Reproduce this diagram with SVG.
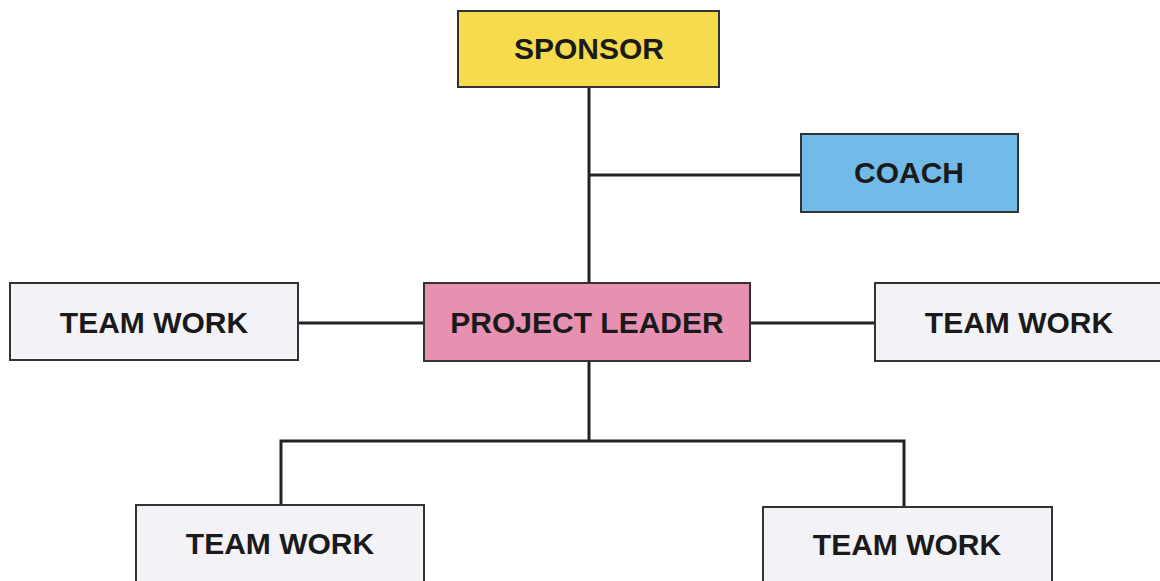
<svg xmlns="http://www.w3.org/2000/svg" width="1160" height="581" viewBox="0 0 1160 581">
  <style>
    .box { stroke: #333; stroke-width: 2; }
    .label { font-family: "Liberation Sans", Arial, sans-serif; font-weight: bold; font-size: 30px; fill: #1a1a1a; text-anchor: middle; }
    .link { fill: none; stroke: #222; stroke-width: 3; }
    .team { fill: #f3f2f7; }
  </style>
  <rect width="1160" height="581" fill="#ffffff"/>

  <g id="connectors">
    <line class="link" x1="589" y1="87" x2="589" y2="283"/>
    <line class="link" x1="589" y1="175" x2="801" y2="175"/>
    <line class="link" x1="298" y1="323" x2="424" y2="323"/>
    <line class="link" x1="750" y1="323" x2="875" y2="323"/>
    <line class="link" x1="589" y1="361" x2="589" y2="441"/>
    <polyline class="link" points="281,505 281,441 904,441 904,507"/>
  </g>

  <g id="sponsor">
    <rect class="box" x="458" y="11" width="261" height="76" fill="#f6dc4c"/>
    <text class="label" x="589" y="59">SPONSOR</text>
  </g>

  <g id="coach">
    <rect class="box" x="801" y="134" width="217" height="78" fill="#72bbe9"/>
    <text class="label" x="909" y="183">COACH</text>
  </g>

  <g id="project-leader">
    <rect class="box" x="424" y="283" width="326" height="78" fill="#e890b2"/>
    <text class="label" x="587" y="333">PROJECT LEADER</text>
  </g>

  <g id="team-left">
    <rect class="box team" x="10" y="283" width="288" height="77"/>
    <text class="label" x="154" y="333">TEAM WORK</text>
  </g>

  <g id="team-right">
    <rect class="box team" x="875" y="283" width="288" height="78"/>
    <text class="label" x="1019" y="333">TEAM WORK</text>
  </g>

  <g id="team-bottom-left">
    <rect class="box team" x="136" y="505" width="288" height="80"/>
    <text class="label" x="280" y="554">TEAM WORK</text>
  </g>

  <g id="team-bottom-right">
    <rect class="box team" x="763" y="507" width="289" height="80"/>
    <text class="label" x="907" y="555">TEAM WORK</text>
  </g>
</svg>
